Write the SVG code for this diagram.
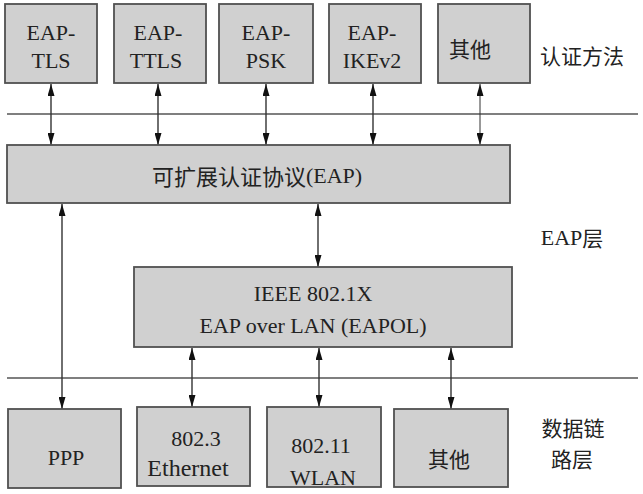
<svg xmlns="http://www.w3.org/2000/svg" width="643" height="494" viewBox="0 0 643 494">
<style>
.box{fill:#d0d0d0;stroke:#505050;stroke-width:1.8}
.t{font-family:'Liberation Serif','Times New Roman',serif;font-size:22px;fill:#222;text-anchor:middle;dominant-baseline:central}
.c{font-family:'Noto Sans CJK SC',sans-serif;font-size:21px}
.sep{stroke:#555;stroke-width:1.5;fill:none}
.con{stroke:#333;stroke-width:1.4;fill:none;marker-start:url(#ah);marker-end:url(#ah)}
</style>
<defs>
<marker id="ah" viewBox="0 0 12 7" refX="12" refY="3.5" markerWidth="12" markerHeight="7" markerUnits="userSpaceOnUse" orient="auto-start-reverse">
<path d="M0,0 L12,3.5 L0,7 z" fill="#111"/>
</marker>
</defs>
<rect width="643" height="494" fill="#fff"/>
<g id="separators">
<line class="sep" x1="7" y1="114" x2="638" y2="114"/>
<line class="sep" x1="7" y1="378" x2="638" y2="378"/>
</g>
<g id="connectors">
<line class="con" x1="51" y1="84" x2="51" y2="145"/>
<line class="con" x1="158" y1="84" x2="158" y2="145"/>
<line class="con" x1="266" y1="84" x2="266" y2="145"/>
<line class="con" x1="373" y1="84" x2="373" y2="145"/>
<line class="con" x1="480" y1="84" x2="480" y2="145" style="stroke-width:1"/>
<line class="con" x1="62" y1="204" x2="62" y2="409"/>
<line class="con" x1="318" y1="204" x2="318" y2="267"/>
<line class="con" x1="192" y1="348" x2="192" y2="407"/>
<line class="con" x1="319" y1="348" x2="319" y2="407"/>
<line class="con" x1="451" y1="348" x2="451" y2="409"/>
</g>
<g id="eap-tls"><rect class="box" x="5" y="4" width="92" height="79"/><text class="t" x="51" y="32">EAP-</text><text class="t" x="51" y="60">TLS</text></g>
<g id="eap-ttls"><rect class="box" x="114" y="4" width="92" height="79"/><text class="t" x="158" y="32">EAP-</text><text class="t" x="156" y="60">TTLS</text></g>
<g id="eap-psk"><rect class="box" x="219" y="4" width="94" height="79"/><text class="t" x="266" y="32">EAP-</text><text class="t" x="266" y="60">PSK</text></g>
<g id="eap-ikev2"><rect class="box" x="329" y="4" width="92" height="79"/><text class="t" x="372" y="32">EAP-</text><text class="t" x="372" y="60">IKEv2</text></g>
<g id="other-auth"><rect class="box" x="438" y="4" width="92" height="79"/><text class="t c" x="470" y="48">其他</text></g>
<g id="eap"><rect class="box" x="7" y="145" width="503" height="58"/><text class="t" x="257" y="175"><tspan class="c" style="font-size:22px">可扩展认证协议</tspan>(EAP)</text></g>
<g id="eapol"><rect class="box" x="134" y="267" width="378" height="80"/><text class="t" x="313" y="293">IEEE 802.1X</text><text class="t" x="313" y="325">EAP over LAN (EAPOL)</text></g>
<g id="ppp"><rect class="box" x="8" y="409" width="113" height="79"/><text class="t" x="66" y="457">PPP</text></g>
<g id="ethernet"><rect class="box" x="137" y="407" width="113" height="79"/><text class="t" x="196" y="438">802.3</text><text class="t" x="188" y="468" style="font-size:24px">Ethernet</text></g>
<g id="wlan"><rect class="box" x="267" y="407" width="114" height="80"/><text class="t" x="321" y="445">802.11</text><text class="t" x="323" y="477">WLAN</text></g>
<g id="other-link"><rect class="box" x="394" y="409" width="114" height="78"/><text class="t c" x="449" y="458">其他</text></g>
<g id="labels">
<text class="t c" x="582" y="55">认证方法</text>
<text class="t" x="572" y="237">EAP<tspan class="c">层</tspan></text>
<text class="t c" x="573" y="427">数据链</text>
<text class="t c" x="572" y="458">路层</text>
</g>
</svg>
